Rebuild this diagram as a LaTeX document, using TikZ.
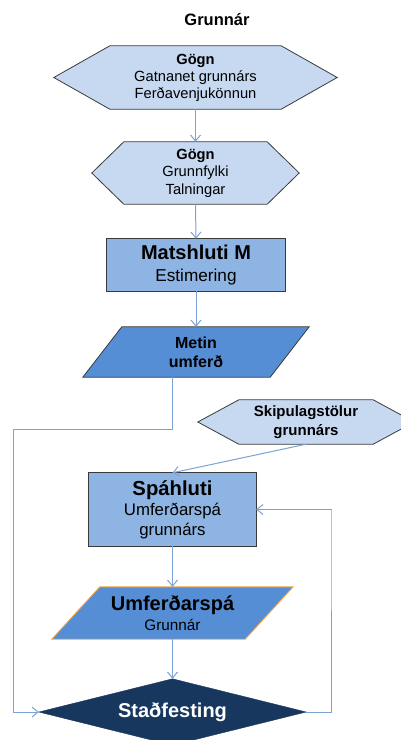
\documentclass[tikz,border=0pt]{standalone}
\usepackage{fontspec}
\setmainfont{Liberation Sans}
\usetikzlibrary{arrows.meta,backgrounds,calc}

\definecolor{gognblue}{HTML}{C6D9F1}
\definecolor{matsblue}{HTML}{8EB4E3}
\definecolor{metinblue}{HTML}{558ED5}
\definecolor{flowblue}{HTML}{7BA3D6}
\definecolor{stadnavy}{HTML}{17375E}
\definecolor{umforange}{HTML}{F5A742}
\definecolor{edgegray}{HTML}{3A3A3A}

% outlines drawn round a plain box node
\newcommand{\hexout}[3]{%
  \draw[#3] ($(#1.north west)+(#2,0)$) -- ($(#1.north east)+(-#2,0)$) -- (#1.east)
    -- ($(#1.south east)+(-#2,0)$) -- ($(#1.south west)+(#2,0)$) -- (#1.west) -- cycle;}
\newcommand{\paraout}[3]{%
  \draw[#3] ($(#1.north west)+(#2,0)$) -- (#1.north east)
    -- ($(#1.south east)+(-#2,0)$) -- (#1.south west) -- cycle;}

\tikzset{
  box/.style={inner sep=0pt, align=center},
  gognfill/.style={fill=gognblue, draw=edgegray, line width=0.8pt},
  matsfill/.style={fill=matsblue, draw=edgegray, line width=0.8pt},
  metinfill/.style={fill=metinblue, draw=edgegray, line width=0.8pt},
  umffill/.style={fill=metinblue, draw=umforange, line width=0.9pt},
  stadfill/.style={fill=stadnavy, draw=stadnavy},
  flow/.style={draw=flowblue, line width=1pt, -{Straight Barb[length=6pt,width=10pt]}}
}

\begin{document}
\begin{tikzpicture}[x=1pt,y=-1pt]
\useasboundingbox (0,0) rectangle (401,740);

\node[font=\bfseries\fontsize{16.5}{20}\selectfont] (title) at (217,20) {Grunnár};

\node[box, minimum width=283pt, minimum height=63pt, font=\fontsize{14.7}{17}\selectfont]
  (g1) at (195.5,77.5) {\textbf{Gögn}\\Gatnanet grunnárs\\Ferðavenjukönnun};
\node[box, minimum width=207pt, minimum height=62pt, font=\fontsize{14.7}{17.5}\selectfont]
  (g2) at (195.5,173) {\textbf{Gögn}\\Grunnfylki\\Talningar};
\node[box, minimum width=178pt, minimum height=52pt, font=\fontsize{17.2}{22}\selectfont]
  (mats) at (196,265) {{\bfseries\fontsize{20}{22}\selectfont Matshluti M}\\Estimering};
\node[box, minimum width=226pt, minimum height=50pt, font=\bfseries\fontsize{16}{19}\selectfont]
  (metin) at (196,352) {Metin\\umferð};
\node[box, minimum width=216pt, minimum height=44pt, font=\bfseries\fontsize{15}{19}\selectfont]
  (skip) at (306,422) {Skipulagstölur\\grunnárs};
\node[box, minimum width=167pt, minimum height=73pt, font=\fontsize{16.8}{20}\selectfont]
  (spa) at (172.5,509.5) {{\bfseries\fontsize{20.3}{20}\selectfont Spáhluti}\\Umferðarspá\\grunnárs};
\node[box, minimum width=241pt, minimum height=52pt, font=\fontsize{15.3}{20}\selectfont]
  (umf) at (172.5,613) {{\bfseries\fontsize{20}{20}\selectfont Umferðarspá}\\Grunnár};
\node[box, minimum width=267pt, minimum height=66pt, text=white, font=\bfseries\fontsize{20}{22}\selectfont]
  (stad) at (172.5,712) {Staðfesting};

\begin{scope}[on background layer]
  \hexout{g1}{56}{gognfill}
  \hexout{g2}{32}{gognfill}
  \draw[matsfill] (mats.north west) rectangle (mats.south east);
  \paraout{metin}{39}{metinfill}
  \hexout{skip}{41}{gognfill}
  \draw[matsfill] (spa.north west) rectangle (spa.south east);
  \paraout{umf}{48}{umffill}
  \draw[stadfill] (stad.north) -- (stad.east) -- (stad.south) -- (stad.west) -- cycle;
\end{scope}

\coordinate (lft) at (13,429);
\coordinate (rgt) at (331,510);

\draw[flow] (g1.south) -- (g2.north);
\draw[flow] (g2.south) -- (mats.north);
\draw[flow] (mats.south) -- (metin.north);
\draw[flow] (skip.south) -- (spa.north);
\draw[flow] (spa.south) -- (umf.north);
\draw[flow] (umf.south) -- (stad.north);
\draw[flow] (metin.south -| spa.south) |- (lft) |- (stad.west);
\draw[flow] (stad.east) -| (rgt) |- (spa.east);
\end{tikzpicture}
\end{document}
